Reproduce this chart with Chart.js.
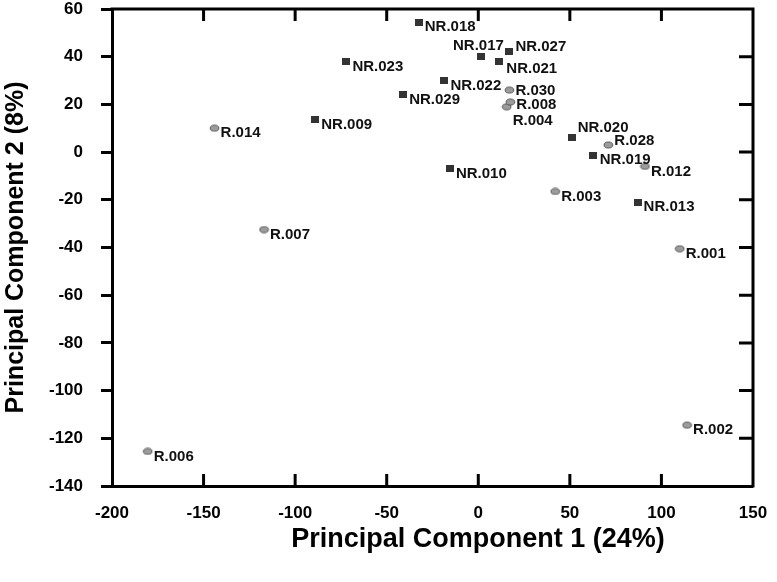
<!DOCTYPE html>
<html><head><meta charset="utf-8">
<script src="https://cdn.jsdelivr.net/npm/chart.js@4"></script>
<style>html,body{margin:0;padding:0;background:#fff}</style>
</head><body>
<canvas id="c" width="777" height="582" style="width:777px;height:582px;display:block"></canvas>
<script>
// ---- data ----
const nrNames = ['NR.018','NR.017','NR.027','NR.021','NR.023','NR.022','NR.029','NR.009','NR.020','NR.019','NR.010','NR.013'];
const nrX     = [-32.5, 1.5, 17, 11.5, -72, -18.5, -41, -89, 51, 62.5, -15.5, 87];
const nrY     = [54.5, 40, 42, 38, 38, 30, 24, 13.5, 6, -1.5, -7, -21];
const rNames  = ['R.030','R.004','R.008','R.014','R.028','R.012','R.003','R.007','R.001','R.002','R.006'];
const rX      = [17, 15.5, 17.5, -144, 71, 91, 42, -117, 110, 114, -180.5];
const rY      = [26, 19, 21, 10, 3, -6, -16.5, -32.5, -40.5, -114.5, -125.5];
const xTicks  = [-200, -150, -100, -50, 0, 50, 100, 150];
const yTicks  = [60, 40, 20, 0, -20, -40, -60, -80, -100, -120, -140];
const xTitle  = 'Principal Component 1 (24%)';
const yTitle  = 'Principal Component 2 (8%)';

// ---- styles ----
const FONT = '"Liberation Sans", Arial, sans-serif';
const labelOffsets = {
  'NR.017': [-28, -11], 'NR.027': [6, -5], 'NR.021': [7, 7],
  'R.030': [6, 1], 'R.008': [6, 3], 'R.004': [6, 14],
  'NR.020': [6, -10], 'R.028': [6, -4], 'NR.019': [7, 4]
};
function makeRect() {
  const c = document.createElement('canvas'); c.width = 8; c.height = 7;
  const g = c.getContext('2d'); g.fillStyle = '#333'; g.fillRect(0, 0, 8, 7); return c;
}
function makeEllipse() {
  const c = document.createElement('canvas'); c.width = 11; c.height = 8;
  const g = c.getContext('2d'); g.beginPath(); g.ellipse(5.5, 4, 4.3, 3, 0, 0, Math.PI * 2);
  g.fillStyle = '#9c9c9c'; g.fill(); g.lineWidth = 1; g.strokeStyle = '#555'; g.stroke(); return c;
}

const labelPlugin = {
  id: 'pointLabels',
  afterDatasetsDraw(chart) {
    const ctx = chart.ctx;
    ctx.save();
    ctx.font = 'bold 15px ' + FONT;
    ctx.fillStyle = '#111';
    ctx.textBaseline = 'middle';
    ctx.textAlign = 'left';
    chart.data.datasets.forEach((ds, i) => {
      chart.getDatasetMeta(i).data.forEach((pt, j) => {
        const name = ds.names[j];
        const off = labelOffsets[name] || [6, 5];
        ctx.fillText(name, pt.x + off[0], pt.y + off[1]);
      });
    });
    ctx.restore();
  }
};

const boxPlugin = {
  id: 'box',
  afterDraw(chart) {
    const {ctx, chartArea: a, scales: {x, y}} = chart;
    ctx.save();
    ctx.strokeStyle = '#000';
    ctx.lineWidth = 3;
    ctx.beginPath();
    ctx.moveTo(a.left - 1.5, a.top); ctx.lineTo(a.right, a.top); ctx.lineTo(a.right, a.bottom + 1.5);
    xTicks.forEach(v => {
      const px = x.getPixelForValue(v);
      if (px <= a.left + 2 || px >= a.right - 2) return;
      ctx.moveTo(px, a.bottom); ctx.lineTo(px, a.bottom - 12);
      ctx.moveTo(px, a.top); ctx.lineTo(px, a.top + 12);
    });
    yTicks.forEach(v => {
      const py = y.getPixelForValue(v);
      if (py <= a.top + 2 || py >= a.bottom - 2) return;
      ctx.moveTo(a.right, py); ctx.lineTo(a.right - 14, py);
    });
    ctx.stroke();
    // axis titles
    ctx.fillStyle = '#000';
    ctx.textAlign = 'center';
    ctx.textBaseline = 'middle';
    ctx.font = 'bold 27px ' + FONT;
    ctx.fillText(xTitle, 478, 540);
    ctx.save();
    ctx.translate(16, (a.top + a.bottom) / 2);
    ctx.rotate(-Math.PI / 2);
    ctx.font = 'bold 25px ' + FONT;
    ctx.fillText(yTitle, 0, 0);
    ctx.restore();
    ctx.restore();
  }
};

new Chart(document.getElementById('c'), {
  type: 'scatter',
  data: {
    datasets: [
      { names: nrNames, data: nrX.map((v, i) => ({x: v, y: nrY[i]})), pointStyle: makeRect(), pointRadius: 4 },
      { names: rNames, data: rX.map((v, i) => ({x: v, y: rY[i]})), pointStyle: makeEllipse(), pointRadius: 4 }
    ]
  },
  options: {
    responsive: false,
    animation: false,
    devicePixelRatio: 1,
    layout: { padding: { top: 9, right: 24, left: 0, bottom: 0 } },
    plugins: { legend: { display: false }, tooltip: { enabled: false } },
    scales: {
      x: {
        type: 'linear', min: -200, max: 150,
        afterBuildTicks: s => { s.ticks = xTicks.map(v => ({value: v})); },
        afterFit: s => { s.height = 96; s.paddingLeft = 0; s.paddingRight = 0; },
        grid: { display: true, drawOnChartArea: false, drawTicks: false, color: '#000', lineWidth: 0 },
        border: { display: true, color: '#000', width: 3 },
        ticks: { color: '#000', font: { family: FONT, size: 17, weight: 'bold' }, padding: 17, maxRotation: 0, autoSkip: false },
        title: { display: false, text: xTitle }
      },
      y: {
        type: 'linear', min: -140, max: 60,
        afterBuildTicks: s => { s.ticks = yTicks.map(v => ({value: v})); },
        afterFit: s => { s.width = 112; s.paddingTop = 0; s.paddingBottom = 0; },
        grid: { display: true, drawOnChartArea: false, drawTicks: true, tickLength: 11, color: '#000', lineWidth: 3 },
        border: { display: true, color: '#000', width: 3 },
        ticks: { color: '#000', font: { family: FONT, size: 17, weight: 'bold' }, padding: 18, autoSkip: false },
        title: { display: false, text: yTitle }
      }
    }
  },
  plugins: [labelPlugin, boxPlugin]
});
</script>
</body></html>
